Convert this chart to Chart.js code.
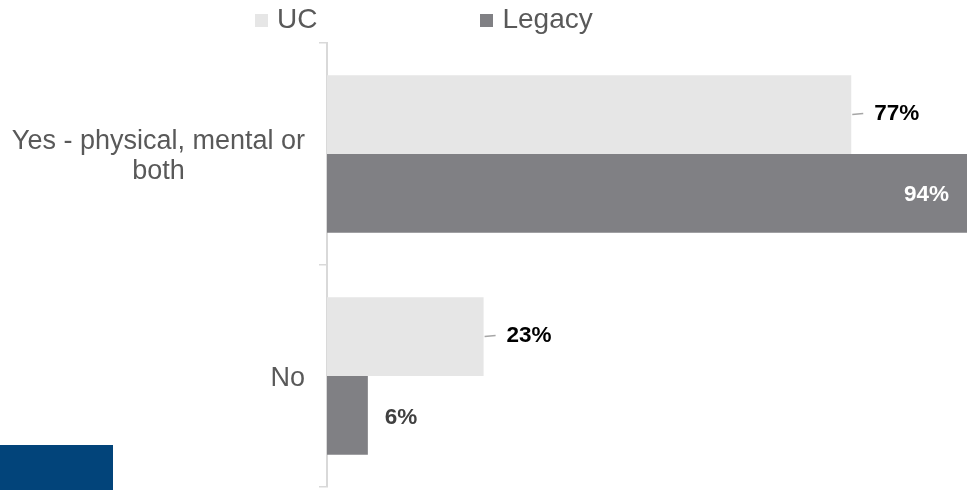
<!DOCTYPE html>
<html lang="en">
<head>
    <meta charset="UTF-8">
    <title>Health condition</title>
    <script src="https://cdn.jsdelivr.net/npm/chart.js@4.4.1/dist/chart.umd.min.js"></script>
    <style>
        body{margin:0; background:#fff;}
        #wrap{position:relative; width:973px; height:490px;}
        #legend{position:absolute; top:0; left:255px; display:flex; gap:163px;
            font:28px "Liberation Sans", Arial, sans-serif; color:#595959; line-height:38px;}
        #legend .box{display:inline-block; width:13px; height:13px; margin-right:9px; vertical-align:1px;}
        #logo{position:absolute; left:0; top:445px; width:113px; height:45px; background:#02447a;}
    </style>
</head>
<body>
<div id="wrap">
    <canvas id="myChart"></canvas>
    <div id="legend"></div>
    <div id="logo"></div>
</div>
<script>
    // categories and series
    const categories = [['Yes - physical, mental or', 'both'], 'No'];
    const seriesNames = ['UC', 'Legacy'];
    const ucValues = [77, 23];
    const legacyValues = [94, 6];
    const seriesColors = ['#e6e6e6', '#808084'];

    // y category labels: block right-aligned to the axis, lines centred in the block
    const categoryLabels = {
        id: 'categoryLabels',
        afterDraw(chart) {
            const ctx = chart.ctx, yScale = chart.scales.y;
            const right = chart.chartArea.left - 22;
            ctx.save();
            ctx.font = '27px "Liberation Sans", Arial, sans-serif';
            ctx.fillStyle = '#595959';
            ctx.textAlign = 'center';
            ctx.textBaseline = 'middle';
            chart.data.labels.forEach(function(label, i){
                const lines = [].concat(label);
                const w = Math.max.apply(null, lines.map(l => ctx.measureText(l).width));
                const cy = yScale.getPixelForValue(i) + 3;
                lines.forEach(function(l, j){
                    ctx.fillText(l, right - w / 2, cy + (j - (lines.length - 1) / 2) * 30);
                });
            });
            ctx.restore();
        }
    };

    // percentage labels on the bars
    const valueLabels = {
        id: 'valueLabels',
        afterDatasetsDraw(chart) {
            const ctx = chart.ctx;
            ctx.save();
            ctx.font = 'bold 22.5px "Liberation Sans", Arial, sans-serif';
            ctx.textBaseline = 'middle';
            chart.data.datasets.forEach(function(ds, di){
                chart.getDatasetMeta(di).data.forEach(function(bar, i){
                    const v = ds.data[i];
                    const text = v + '%';
                    if (di === 0) {
                        // leader line + label outside
                        const y = bar.y - 1;
                        ctx.strokeStyle = '#a6a6a6';
                        ctx.lineWidth = 1.5;
                        ctx.beginPath();
                        ctx.moveTo(bar.x + 1, y + 1);
                        ctx.lineTo(bar.x + 12, y);
                        ctx.stroke();
                        ctx.fillStyle = '#000';
                        ctx.textAlign = 'left';
                        ctx.fillText(text, bar.x + 23, y);
                    } else if (v > 50) {
                        ctx.fillStyle = '#fff';
                        ctx.textAlign = 'right';
                        ctx.fillText(text, bar.x - 18, bar.y + 1);
                    } else {
                        ctx.fillStyle = '#404040';
                        ctx.textAlign = 'left';
                        ctx.fillText(text, bar.x + 17, bar.y + 2);
                    }
                });
            });
            ctx.restore();
        }
    };

    const ctx = document.getElementById('myChart').getContext('2d');
    const myChart = new Chart(ctx, {
        type: 'bar',
        data: {
            labels: categories,
            datasets: [{
                label: seriesNames[0],
                data: ucValues,
                backgroundColor: seriesColors[0]
            }, {
                label: seriesNames[1],
                data: legacyValues,
                backgroundColor: seriesColors[1]
            }]
        },
        options: {
            indexAxis: 'y',
            responsive: true,
            maintainAspectRatio: false,
            animation: false,
            datasets: {
                bar: {categoryPercentage: 0.71, barPercentage: 1}
            },
            layout: {padding: {top: 43, bottom: 3, right: 6, left: 0}},
            plugins: {
                legend: {display: false},
                tooltip: {enabled: false}
            },
            scales: {
                x: {display: false, min: 0, max: 94},
                y: {
                    ticks: {display: false},
                    grid: {
                        offset: true,
                        drawOnChartArea: false,
                        drawTicks: true,
                        tickLength: 8,
                        color: '#d9d9d9',
                        lineWidth: 1.5
                    },
                    border: {display: true, color: '#d9d9d9', width: 2},
                    afterFit: function(scale){ scale.width = 327; }
                }
            }
        },
        plugins: [categoryLabels, valueLabels]
    });

    // html legend
    const legend = document.getElementById('legend');
    seriesNames.forEach(function(name, i){
        const item = document.createElement('span');
        const box = document.createElement('span');
        box.className = 'box';
        box.style.background = seriesColors[i];
        item.appendChild(box);
        item.appendChild(document.createTextNode(name));
        legend.appendChild(item);
    });
</script>
</body>
</html>
